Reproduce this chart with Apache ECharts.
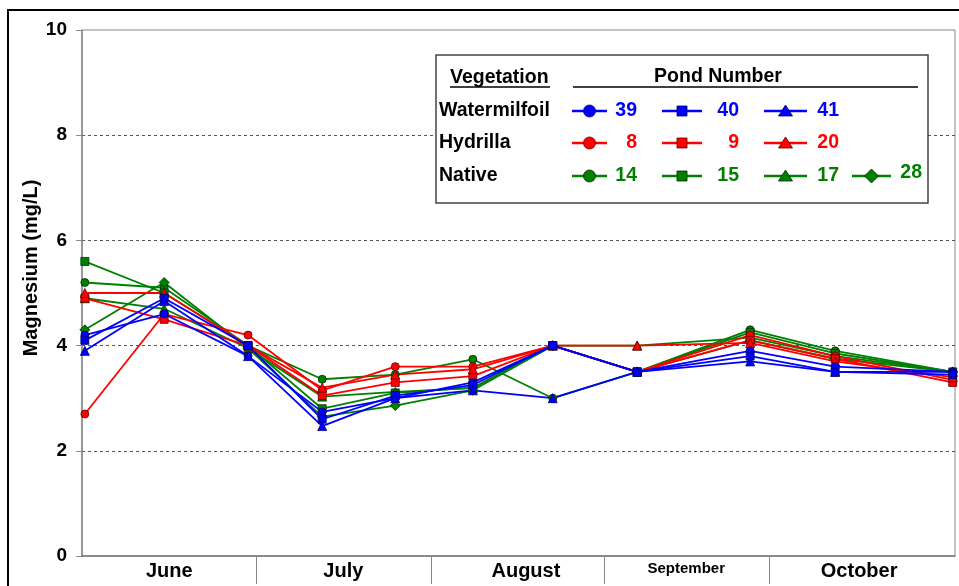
<!DOCTYPE html>
<html>
<head>
<meta charset="utf-8">
<title>Magnesium by pond</title>
<script src="https://cdn.jsdelivr.net/npm/echarts@6/dist/echarts.min.js"></script>
<style>
  html, body { margin: 0; padding: 0; background: #ffffff; }
  #chart { width: 959px; height: 586px; }
</style>
</head>
<body>
<div id="chart"></div>
<script>
// Sampling dates, as days after June 1
const sampleDays = [0.5, 14.4, 29.1, 42.1, 54.9, 68.5, 82.5, 97.3, 117.1, 132.0, 152.6];

// Month bands along the x axis (day offsets)
const monthNames = ['June', 'July', 'August', 'September', 'October'];
const monthLabelDays = [15.3, 45.8, 77.8, 105.9, 136.2];
const monthBoundaryDays = [30.5, 61.2, 91.5, 120.4];

// Y axis ticks
const yTicks = [0, 2, 4, 6, 8, 10];

// Magnesium (mg/L) per pond
// Watermilfoil
const pond39 = [4.2, 4.6, 3.8, 2.74, 3.0, 3.3, 4.0, 3.5, 3.9, 3.6, 3.5];
const pond40 = [4.1, 4.9, 4.0, 2.6, 3.05, 3.25, 4.0, 3.5, 3.8, 3.5, 3.45];
const pond41 = [3.9, 4.85, 3.8, 2.47, 3.0, 3.15, 3.0, 3.5, 3.7, 3.5, 3.5];
// Hydrilla
const pond8 = [2.7, 4.6, 4.2, 3.15, 3.6, 3.6, 4.0, 3.5, 4.2, 3.8, 3.35];
const pond9 = [4.9, 4.5, 4.0, 3.05, 3.3, 3.42, 4.0, 3.5, 4.1, 3.75, 3.3];
const pond20 = [5.0, 5.0, 4.0, 3.2, 3.45, 3.55, 4.0, 4.0, 4.05, 3.7, 3.4];
// Native
const pond14 = [5.2, 5.1, 4.0, 3.36, 3.45, 3.74, 3.0, 3.5, 4.3, 3.9, 3.5];
const pond15 = [5.6, 5.0, 4.0, 2.8, 3.1, 3.2, 4.0, 3.5, 4.25, 3.85, 3.5];
const pond17 = [4.9, 4.7, 3.95, 3.03, 3.12, 3.19, 4.0, 4.0, 4.15, 3.8, 3.5];
const pond28 = [4.3, 5.2, 3.95, 2.65, 2.86, 3.15, 4.0, 3.5, 4.1, 3.75, 3.5];

const BLUE = '#0000FF', RED = '#FF0000', GREEN = '#008000';
const EDGE = { [BLUE]: '#000060', [RED]: '#600000', [GREEN]: '#002800' };
const FONT = '"Liberation Sans", Arial, sans-serif';

const seriesDefs = [
  // drawn first to last: native, hydrilla, watermilfoil on top
  { name: '14', data: pond14, color: GREEN, symbol: 'circle' },
  { name: '15', data: pond15, color: GREEN, symbol: 'rect' },
  { name: '17', data: pond17, color: GREEN, symbol: 'triangle' },
  { name: '28', data: pond28, color: GREEN, symbol: 'diamond' },
  { name: '8', data: pond8, color: RED, symbol: 'circle' },
  { name: '9', data: pond9, color: RED, symbol: 'rect' },
  { name: '20', data: pond20, color: RED, symbol: 'triangle' },
  { name: '39', data: pond39, color: BLUE, symbol: 'circle' },
  { name: '40', data: pond40, color: BLUE, symbol: 'rect' },
  { name: '41', data: pond41, color: BLUE, symbol: 'triangle' }
];

const symbolSizes = { circle: 8, rect: 8, triangle: 9, diamond: 10 };

const series = seriesDefs.map(d => ({
  type: 'line',
  name: d.name,
  data: sampleDays.map((x, i) => [x, d.data[i]]),
  symbol: d.symbol,
  symbolSize: symbolSizes[d.symbol],
  showAllSymbol: true,
  animation: false,
  lineStyle: { color: d.color, width: 1.8 },
  itemStyle: { color: d.color, borderColor: EDGE[d.color], borderWidth: 0.8 },
  emphasis: { disabled: true }
}));

// Legend table (drawn with graphic elements)
const legendRows = [
  { label: 'Watermilfoil', y: 111, color: BLUE, items: [['39', 'circle'], ['40', 'rect'], ['41', 'triangle']] },
  { label: 'Hydrilla', y: 143, color: RED, items: [['8', 'circle'], ['9', 'rect'], ['20', 'triangle']] },
  { label: 'Native', y: 176, color: GREEN, items: [['14', 'circle'], ['15', 'rect'], ['17', 'triangle'], ['28', 'diamond']] }
];
const legendCols = [
  { x1: 572, x2: 607, right: 637 },
  { x1: 662, x2: 702, right: 739 },
  { x1: 764, x2: 807, right: 839 },
  { x1: 852, x2: 891, right: 922, labelDy: -3 }
];

function markerShape(kind, cx, cy, color) {
  const style = { fill: color, stroke: EDGE[color], lineWidth: 0.8 };
  if (kind === 'circle') return { type: 'circle', shape: { cx, cy, r: 6 }, style };
  if (kind === 'rect') return { type: 'rect', shape: { x: cx - 5, y: cy - 5, width: 10, height: 10 }, style };
  if (kind === 'triangle') return { type: 'polygon', shape: { points: [[cx, cy - 6], [cx + 7, cy + 5], [cx - 7, cy + 5]] }, style };
  return { type: 'polygon', shape: { points: [[cx, cy - 7], [cx + 7, cy], [cx, cy + 7], [cx - 7, cy]] }, style };
}

const LEGEND_FONT = 'bold 19.5px ' + FONT;
const legendGraphics = [
  { type: 'rect', shape: { x: 436, y: 55, width: 492, height: 148 }, style: { fill: '#ffffff', stroke: '#444444', lineWidth: 1.5 }, z: 10 },
  { type: 'text', style: { text: 'Vegetation', x: 450, y: 78, font: LEGEND_FONT, fill: '#000', verticalAlign: 'middle' }, z: 11 },
  { type: 'line', shape: { x1: 450, y1: 87, x2: 550, y2: 87 }, style: { stroke: '#000', lineWidth: 1.5 }, z: 11 },
  { type: 'text', style: { text: 'Pond Number', x: 718, y: 77, font: LEGEND_FONT, fill: '#000', align: 'center', verticalAlign: 'middle' }, z: 11 },
  { type: 'line', shape: { x1: 573, y1: 87, x2: 918, y2: 87 }, style: { stroke: '#000', lineWidth: 1.5 }, z: 11 }
];
legendRows.forEach(row => {
  legendGraphics.push({ type: 'text', style: { text: row.label, x: 439, y: row.y, font: LEGEND_FONT, fill: '#000', verticalAlign: 'middle' }, z: 11 });
  row.items.forEach((it, j) => {
    const c = legendCols[j];
    const cy = row.y;
    legendGraphics.push({ type: 'line', shape: { x1: c.x1, y1: cy, x2: c.x2, y2: cy }, style: { stroke: row.color, lineWidth: 2.5 }, z: 11 });
    legendGraphics.push(Object.assign(markerShape(it[1], (c.x1 + c.x2) / 2, cy, row.color), { z: 12 }));
    legendGraphics.push({ type: 'text', style: { text: it[0], x: c.right, y: cy + (c.labelDy || 0), font: LEGEND_FONT, fill: row.color, align: 'right', verticalAlign: 'middle' }, z: 11 });
  });
});

const chart = echarts.init(document.getElementById('chart'), null, { renderer: 'canvas' });
chart.setOption({
  animation: false,
  backgroundColor: '#ffffff',
  grid: { left: 82, right: 4, top: 30, bottom: 30, show: true, borderColor: '#888888', borderWidth: 1, backgroundColor: 'transparent' },
  xAxis: {
    type: 'value',
    min: 0,
    max: 153,
    axisLine: { show: true, onZero: false, lineStyle: { color: '#777777', width: 1.5 } },
    axisTick: { show: true, customValues: monthBoundaryDays, length: 28, lineStyle: { color: '#888888', width: 1 } },
    axisLabel: {
      show: true,
      customValues: monthLabelDays,
      margin: 5,
      fontFamily: FONT,
      fontWeight: 'bold',
      fontSize: 20,
      color: '#000',
      formatter: v => {
        const name = monthNames[monthLabelDays.indexOf(v)] || '';
        return name === 'September' ? '{small|' + name + '}' : name;
      },
      rich: {
        small: { fontFamily: FONT, fontWeight: 'bold', fontSize: 15, color: '#000', padding: [0, 0, 6, 0] }
      }
    },
    splitLine: { show: false }
  },
  yAxis: {
    type: 'value',
    min: yTicks[0],
    max: yTicks[yTicks.length - 1],
    interval: 2,
    axisLine: { show: true, lineStyle: { color: '#888888', width: 1.5 } },
    axisTick: { show: true, length: 6, lineStyle: { color: '#888888' } },
    axisLabel: { margin: 15, fontFamily: FONT, fontWeight: 'bold', fontSize: 19, color: '#000' },
    splitLine: { show: true, showMinLine: false, showMaxLine: false, lineStyle: { color: '#555555', type: [3, 3], width: 1 } }
  },
  series: series,
  graphic: [
    { type: 'rect', shape: { x: 8, y: 10, width: 1000, height: 1000 }, style: { fill: 'none', stroke: '#000', lineWidth: 2 }, z: 20, silent: true },
    { type: 'text', rotation: Math.PI / 2, x: 31, y: 268, style: { text: 'Magnesium (mg/L)', font: 'bold 20px ' + FONT, fill: '#000', align: 'center', verticalAlign: 'middle' }, z: 11 }
  ].concat(legendGraphics)
});
</script>
</body>
</html>
